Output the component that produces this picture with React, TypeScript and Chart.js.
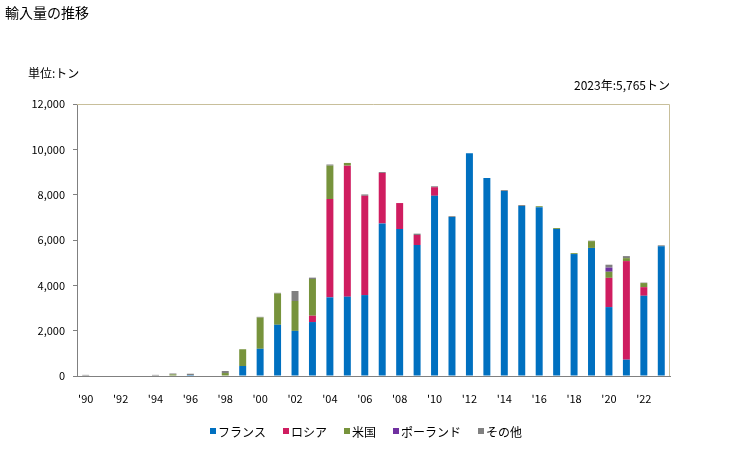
import React, { useEffect, useRef } from 'react';
import { Chart, registerables } from 'chart.js';
Chart.register(...registerables);

const years = [
  '1990', '1991', '1992', '1993', '1994', '1995', '1996', '1997', '1998', '1999',
  '2000', '2001', '2002', '2003', '2004', '2005', '2006', '2007', '2008', '2009',
  '2010', '2011', '2012', '2013', '2014', '2015', '2016', '2017', '2018', '2019',
  '2020', '2021', '2022', '2023',
];

const france = [
  0, 0, 0, 0, 0, 0, 40, 0, 0, 440,
  1200, 2260, 1990, 2380, 3470, 3500, 3570, 6730, 6480, 5780,
  7950, 7010, 9830, 8730, 8160, 7500, 7450, 6480, 5380, 5650,
  3040, 720, 3540, 5720,
];
const russia = [
  0, 0, 0, 0, 0, 0, 0, 0, 0, 0,
  0, 0, 0, 280, 4340, 5780, 4380, 2230, 1150, 440,
  380, 0, 0, 0, 0, 0, 0, 0, 0, 0,
  1290, 4350, 380, 0,
];
const usa = [
  0, 0, 0, 0, 0, 70, 0, 0, 130, 740,
  1380, 1380, 1320, 1620, 1470, 120, 0, 0, 0, 0,
  0, 0, 0, 0, 0, 0, 40, 45, 40, 300,
  270, 130, 180, 0,
];
const poland = [
  0, 0, 0, 0, 0, 0, 0, 0, 0, 0,
  0, 0, 0, 0, 0, 0, 0, 0, 0, 0,
  0, 0, 0, 0, 0, 0, 0, 0, 0, 0,
  180, 0, 0, 0,
];
const others = [
  50, 0, 0, 0, 50, 40, 60, 0, 90, 0,
  30, 30, 440, 60, 50, 0, 60, 40, 0, 60,
  40, 40, 0, 0, 40, 40, 0, 0, 0, 20,
  130, 90, 20, 45,
];

const seriesNames = ['フランス', 'ロシア', '米国', 'ポーランド', 'その他'];
const seriesColors = ['#0070c0', '#cf1d60', '#77933c', '#7030a0', '#808080'];
const yTicks = [0, 2000, 4000, 6000, 8000, 10000, 12000];

const titleText = '輸入量の推移';
const unitText = '単位:トン';
const noteText = '2023年:5,765トン';

const FONT = '"Noto Sans CJK JP", "DejaVu Sans", sans-serif';

const textPlugin = {
  id: 'texts',
  afterDraw(chart: any) {
    const { ctx, chartArea } = chart;
    ctx.save();
    // tan frame on top and right
    ctx.strokeStyle = '#c8bf9b';
    ctx.lineWidth = 1;
    ctx.beginPath();
    ctx.moveTo(chartArea.left, chartArea.top + 0.5);
    ctx.lineTo(chartArea.right - 0.5, chartArea.top + 0.5);
    ctx.lineTo(chartArea.right - 0.5, chartArea.bottom);
    ctx.stroke();

    ctx.fillStyle = '#000';
    ctx.textBaseline = 'middle';
    ctx.textAlign = 'left';
    ctx.font = `14px ${FONT}`;
    ctx.fillText(titleText, 5, 13);
    ctx.font = `12px ${FONT}`;
    ctx.fillText(unitText, 28, 73);
    ctx.textAlign = 'right';
    ctx.fillText(noteText, chartArea.right, 85);

    // legend
    ctx.font = `12px ${FONT}`;
    ctx.textAlign = 'left';
    const box = 6;
    const gap = 2;
    const spacing = 17;
    const items = chart.data.datasets.map((d: any) => ({
      label: d.label,
      color: d.backgroundColor,
      w: box + gap + ctx.measureText(d.label).width,
    }));
    const total = items.reduce((s: number, it: any) => s + it.w, 0) + spacing * (items.length - 1);
    let x = 366 - total / 2;
    const y = 431;
    items.forEach((it: any) => {
      ctx.fillStyle = it.color;
      ctx.fillRect(x, y - box / 2, box, box);
      ctx.fillStyle = '#000';
      ctx.fillText(it.label, x + box + gap, y + 1);
      x += it.w + spacing;
    });
    ctx.restore();
  },
};

export default function App() {
  const ref = useRef<HTMLCanvasElement>(null);
  useEffect(() => {
    if (!ref.current) return;
    const series = [france, russia, usa, poland, others];
    const chart = new Chart(ref.current, {
      type: 'bar',
      data: {
        labels: years,
        datasets: series.map((data, i) => ({
          label: seriesNames[i],
          data,
          backgroundColor: seriesColors[i],
          borderWidth: 0,
          barPercentage: 0.4,
          categoryPercentage: 1,
        })),
      },
      options: {
        animation: false,
        responsive: false,
        devicePixelRatio: 1,
        layout: { padding: { top: 104, right: 59, left: 0, bottom: 0 } },
        plugins: {
          legend: { display: false },
          tooltip: { enabled: false },
          title: { display: false },
        },
        scales: {
          x: {
            stacked: true,
            offset: true,
            grid: { display: false },
            border: { display: true, color: '#808080', width: 1 },
            afterFit: (s: any) => { s.height = 74; },
            ticks: {
              autoSkip: false,
              maxRotation: 0,
              padding: 8,
              color: '#000',
              font: { family: FONT, size: 11 },
              callback: (_v: any, i: number) => (i % 2 === 0 ? "'" + years[i].slice(2) : ''),
            },
          },
          y: {
            stacked: true,
            min: 0,
            max: 12000,
            afterFit: (s: any) => { s.width = 77; },
            afterBuildTicks: (s: any) => { s.ticks = yTicks.map((v) => ({ value: v })); },
            grid: { display: true, drawOnChartArea: false, drawTicks: true, tickLength: 4, color: '#808080' },
            border: { display: true, color: '#808080', width: 1 },
            ticks: {
              padding: 8,
              color: '#000',
              font: { family: FONT, size: 11 },
              callback: (v: any) => Number(v).toLocaleString('en-US'),
            },
          },
        },
      },
      plugins: [textPlugin],
    });
    return () => chart.destroy();
  }, []);
  return (
    <div style={{ position: 'absolute', left: 0, top: 0, width: 729, height: 450, background: '#fff' }}>
      <canvas ref={ref} width={729} height={450} style={{ width: 729, height: 450, display: 'block' }} />
    </div>
  );
}
